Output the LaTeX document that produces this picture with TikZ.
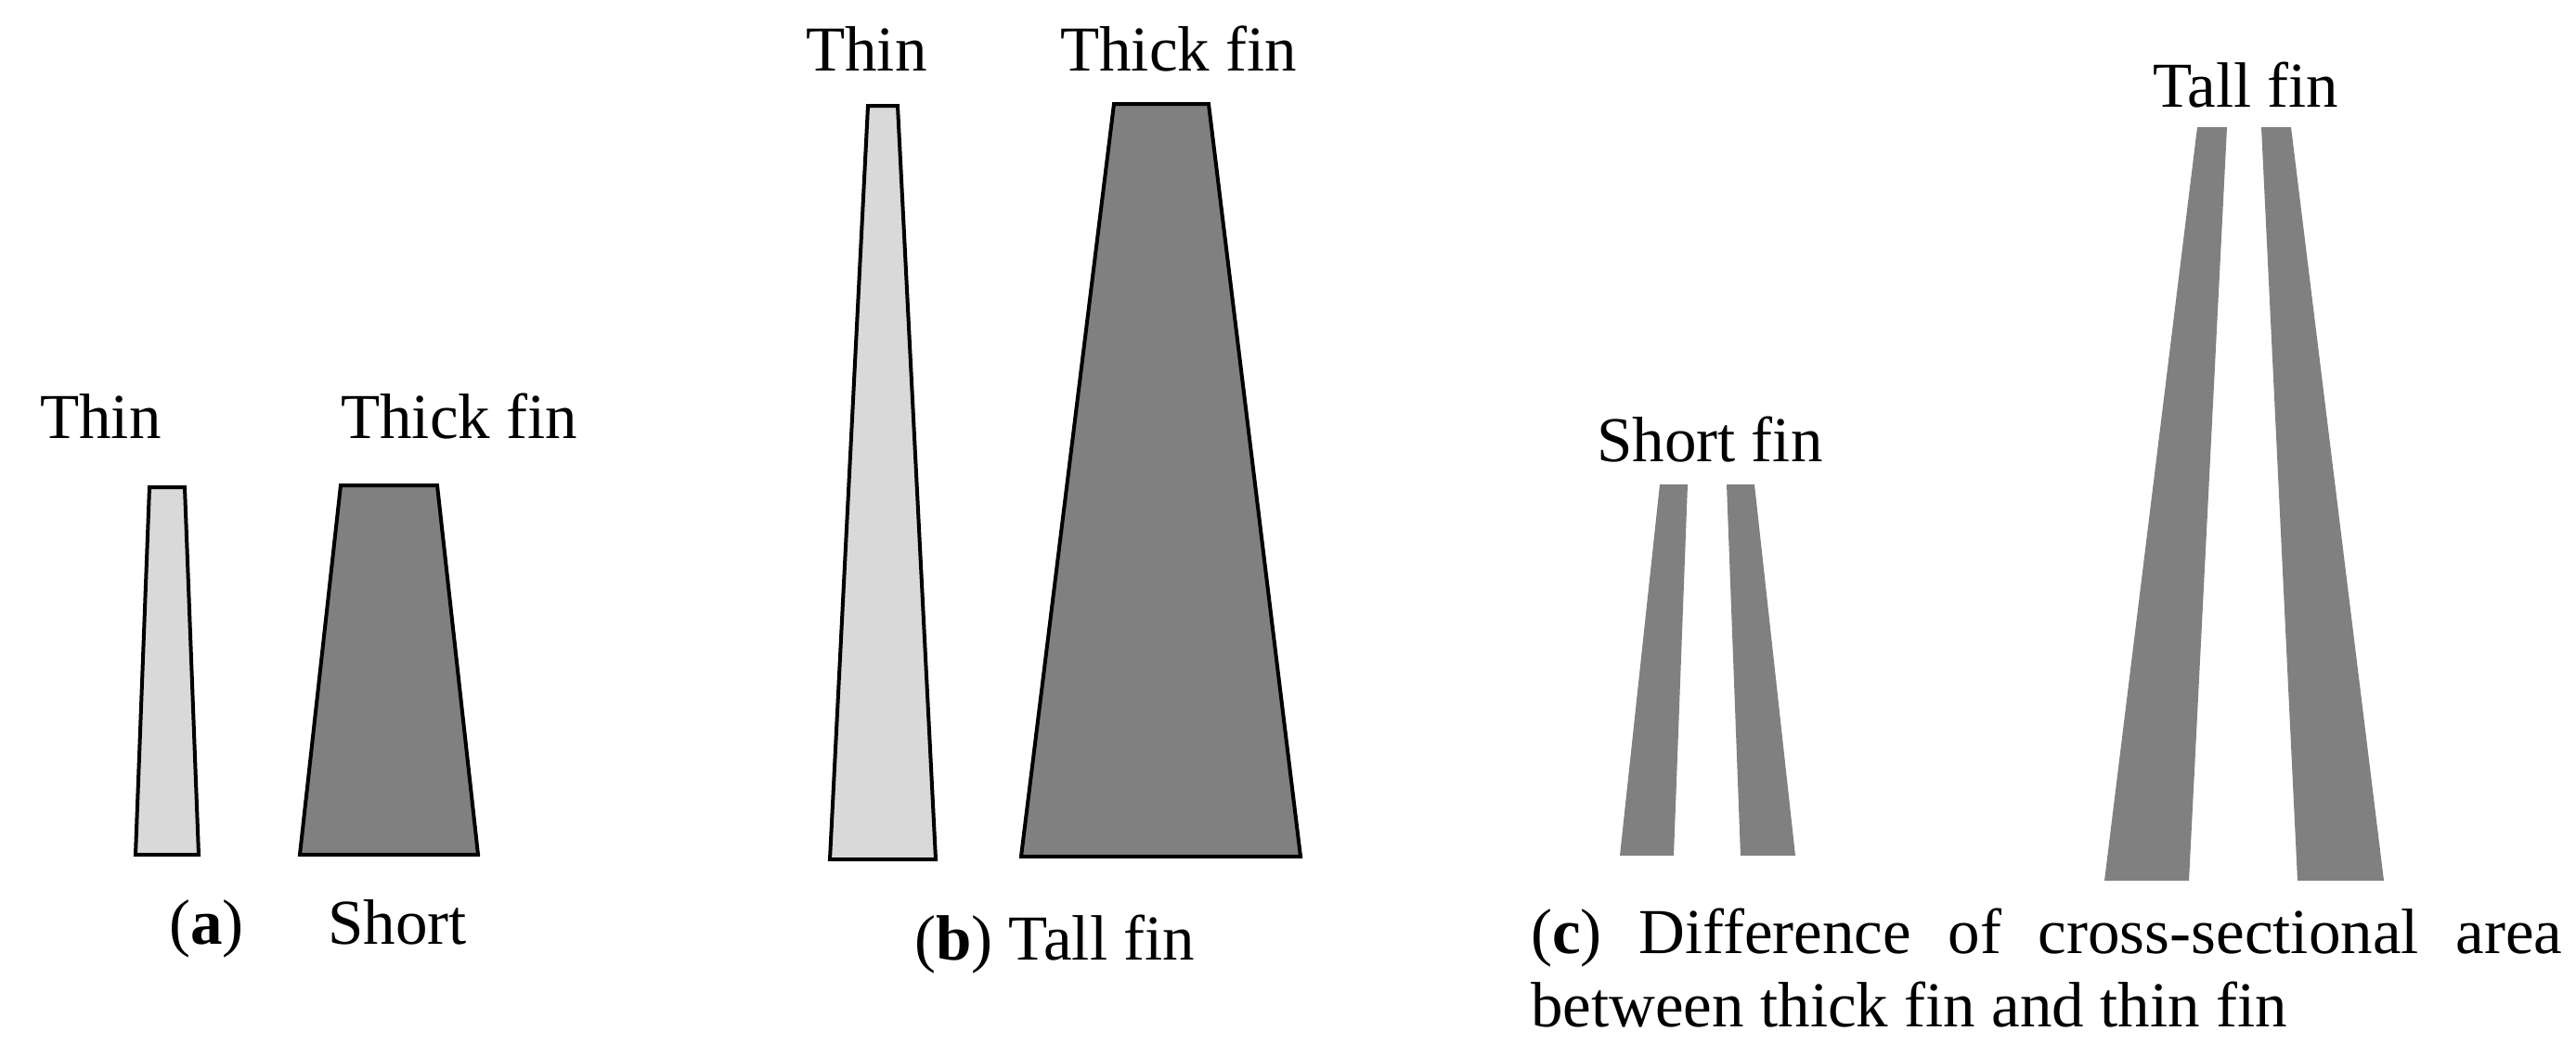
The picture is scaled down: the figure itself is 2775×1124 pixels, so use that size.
\documentclass[tikz,border=0pt]{standalone}
\usepackage{fontspec}
\setmainfont{Liberation Serif}
\definecolor{thinfill}{RGB}{217,217,217}
\definecolor{thickfill}{RGB}{128,128,128}
\tikzset{
  finthin/.style={draw=black,line width=4pt,fill=thinfill},
  finthick/.style={draw=black,line width=4pt,fill=thickfill},
  diffpiece/.style={fill=thickfill,draw=none},
  lbl/.style={inner sep=0pt,anchor=base west,font=\fontsize{69}{79}\selectfont},
}
\begin{document}
\begin{tikzpicture}[x=1pt,y=-1pt]
\useasboundingbox (0,0) rectangle (2775,1124);
% panel (a)
\draw[finthin] (161,525) -- (199,525) -- (214,921) -- (146,921) -- cycle;
\draw[finthick] (367,523) -- (471,523) -- (515,921) -- (323,921) -- cycle;
\node[lbl] (athin) at (43,472) {Thin};
\node[lbl] (athick) at (367,472) {Thick fin};
\node[lbl] (acap) at (182,1017) {(\textbf{a})};
\node[lbl] (ashort) at (353,1017) {Short};
% panel (b)
\draw[finthin] (935,114) -- (967,114) -- (1008,926) -- (894,926) -- cycle;
\draw[finthick] (1200,112) -- (1302,112) -- (1401,923) -- (1100,923) -- cycle;
\node[lbl] (bthin) at (868,76) {Thin};
\node[lbl] (bthick) at (1142,76) {Thick fin};
\node[lbl] (bcap) at (985,1034) {(\textbf{b}) Tall fin};
% panel (c)
\fill[diffpiece] (1788,522) -- (1818,522) -- (1803,922) -- (1745,922) -- cycle;
\fill[diffpiece] (1860,522) -- (1890,522) -- (1934,922) -- (1875,922) -- cycle;
\fill[diffpiece] (2367,137) -- (2399,137) -- (2358,949) -- (2267,949) -- cycle;
\fill[diffpiece] (2436,137) -- (2468,137) -- (2568,949) -- (2475,949) -- cycle;
\node[lbl] (cshort) at (1720,497) {Short fin};
\node[lbl] (ctall) at (2319,115) {Tall fin};
\node[lbl,align=left] (ccap) at (1649,1106) {\makebox[1111pt][s]{(\textbf{c}) Difference of cross-sectional area}\\between thick fin and thin fin};
\end{tikzpicture}
\end{document}
